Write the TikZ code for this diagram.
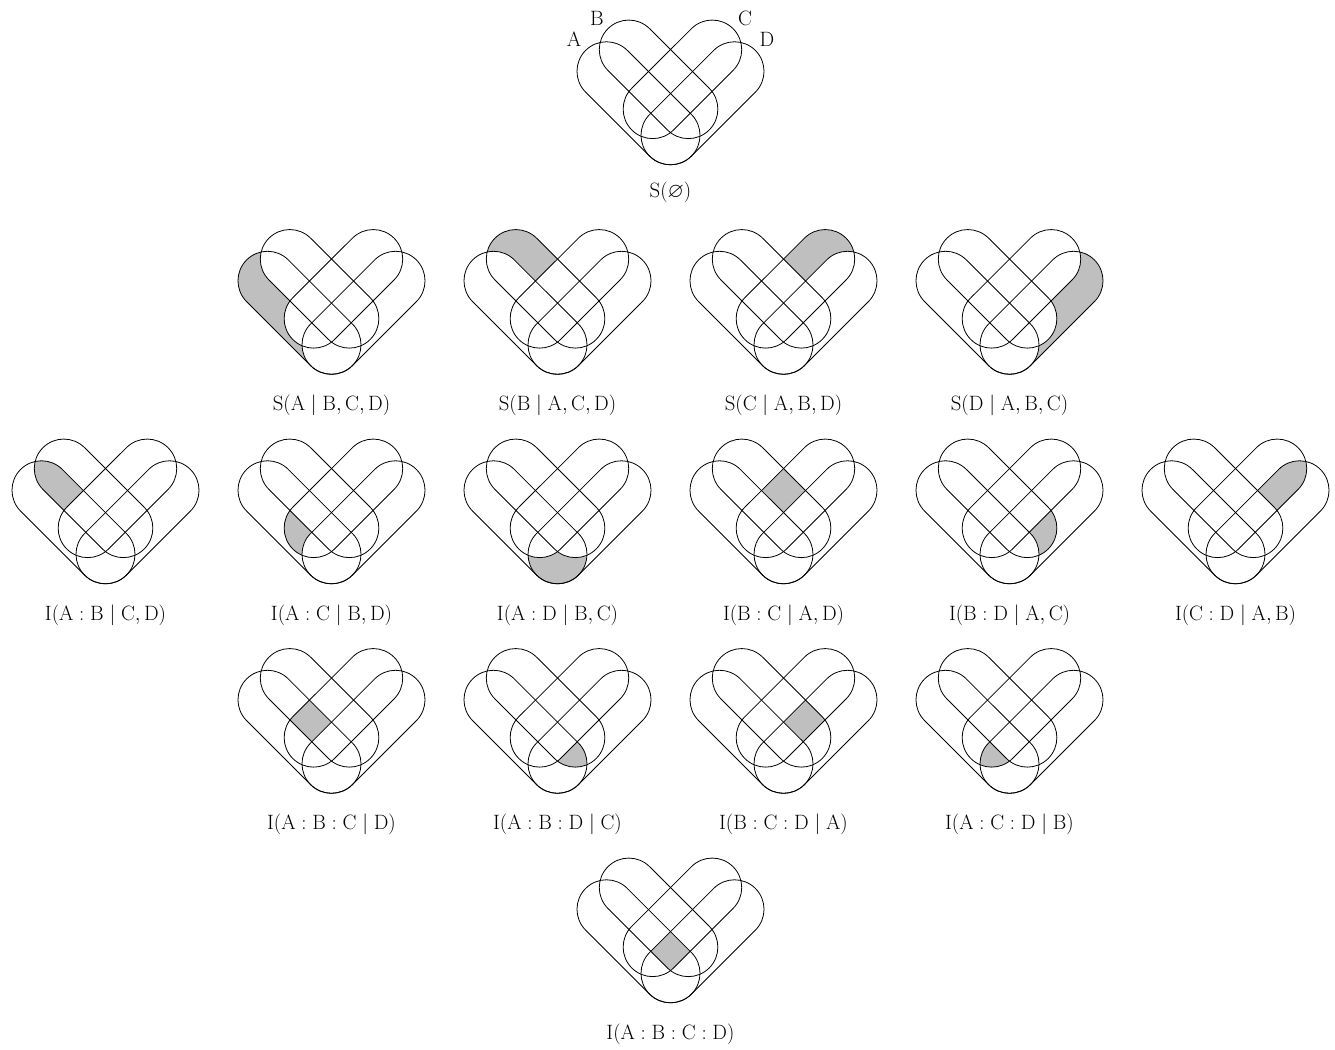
\documentclass[tikz,border=0pt]{standalone}
\usepackage{amssymb}
\begin{document}
\begin{tikzpicture}[x=1pt,y=1pt,
  vennline/.style={line width=0.8pt, draw=black},
  regfill/.style={fill=gray!50},
  lab/.style={anchor=base, inner sep=0pt, font=\fontsize{21}{24}\selectfont},
  setlab/.style={anchor=base, inner sep=0pt, font=\fontsize{20}{24}\selectfont}]
\useasboundingbox (0,0) rectangle (1335,1049);
\newcommand\pA{(-2.877,1.463) -- (-0.7071,-0.7071) arc[start angle=-135,end angle=45,radius=1] -- (-1.463,2.877) arc[start angle=45,end angle=225,radius=1] -- cycle}
\newcommand\pB{(-2.121,2.199) -- (-0.102,0.180) arc[start angle=-135,end angle=45,radius=1] -- (-0.707,3.613) arc[start angle=45,end angle=225,radius=1] -- cycle}
\newcommand\pC{(2.121,2.199) -- (0.102,0.180) arc[start angle=-45,end angle=-225,radius=1] -- (0.707,3.613) arc[start angle=135,end angle=-45,radius=1] -- cycle}
\newcommand\pD{(2.877,1.463) -- (0.7071,-0.7071) arc[start angle=-45,end angle=-225,radius=1] -- (1.463,2.877) arc[start angle=135,end angle=-45,radius=1] -- cycle}
\newcommand\vennoutline{\draw[vennline] \pA; \draw[vennline] \pB; \draw[vennline] \pC; \draw[vennline] \pD;}
% #1 x, #2 y, #3 clips, #4 white fills, #5 label, #6 node name
\newcommand\venn[6]{%
  \begin{scope}[shift={(#1,#2)},scale=29.5]
    \begin{scope}#3\fill[regfill] (-4,-2) rectangle (4,5);#4\end{scope}
    \vennoutline
  \end{scope}
  \node[lab] (#6) at (#1,#2-66) {$\mathrm{#5}$};
}
% top
\begin{scope}[shift={(670.5,913.7)},scale=29.5]
  \vennoutline
\end{scope}
\node[lab] (l0) at (670.5,913.7-62) {$\mathrm{S}(\varnothing)$};
\node[setlab] (sA) at (574,1002.3) {$\mathrm{A}$};
\node[setlab] (sB) at (597,1023) {$\mathrm{B}$};
\node[setlab] (sC) at (745,1023) {$\mathrm{C}$};
\node[setlab] (sD) at (767,1002.3) {$\mathrm{D}$};
% row 1
\venn{331.5}{704.2}{\clip\pA;}{\fill[white]\pB;\fill[white]\pC;\fill[white]\pD;}{S(A\mid B,C,D)}{l1}
\venn{557.5}{704.2}{\clip\pB;}{\fill[white]\pA;\fill[white]\pC;\fill[white]\pD;}{S(B\mid A,C,D)}{l2}
\venn{783.5}{704.2}{\clip\pC;}{\fill[white]\pA;\fill[white]\pB;\fill[white]\pD;}{S(C\mid A,B,D)}{l3}
\venn{1009.5}{704.2}{\clip\pD;}{\fill[white]\pA;\fill[white]\pB;\fill[white]\pC;}{S(D\mid A,B,C)}{l4}
% row 2
\venn{105.5}{494.7}{\clip\pA;\clip\pB;}{\fill[white]\pC;\fill[white]\pD;}{I(A:B\mid C,D)}{l5}
\venn{331.5}{494.7}{\clip\pA;\clip\pC;}{\fill[white]\pB;\fill[white]\pD;}{I(A:C\mid B,D)}{l6}
\venn{557.5}{494.7}{\clip\pA;\clip\pD;}{\fill[white]\pB;\fill[white]\pC;}{I(A:D\mid B,C)}{l7}
\venn{783.5}{494.7}{\clip\pB;\clip\pC;}{\fill[white]\pA;\fill[white]\pD;}{I(B:C\mid A,D)}{l8}
\venn{1009.5}{494.7}{\clip\pB;\clip\pD;}{\fill[white]\pA;\fill[white]\pC;}{I(B:D\mid A,C)}{l9}
\venn{1235.5}{494.7}{\clip\pC;\clip\pD;}{\fill[white]\pA;\fill[white]\pB;}{I(C:D\mid A,B)}{l10}
% row 3
\venn{331.5}{285.2}{\clip\pA;\clip\pB;\clip\pC;}{\fill[white]\pD;}{I(A:B:C\mid D)}{l11}
\venn{557.5}{285.2}{\clip\pA;\clip\pB;\clip\pD;}{\fill[white]\pC;}{I(A:B:D\mid C)}{l12}
\venn{783.5}{285.2}{\clip\pB;\clip\pC;\clip\pD;}{\fill[white]\pA;}{I(B:C:D\mid A)}{l13}
\venn{1009.5}{285.2}{\clip\pA;\clip\pC;\clip\pD;}{\fill[white]\pB;}{I(A:C:D\mid B)}{l14}
% row 4
\venn{670.5}{75.7}{\clip\pA;\clip\pB;\clip\pC;\clip\pD;}{}{I(A:B:C:D)}{l15}
\end{tikzpicture}
\end{document}
